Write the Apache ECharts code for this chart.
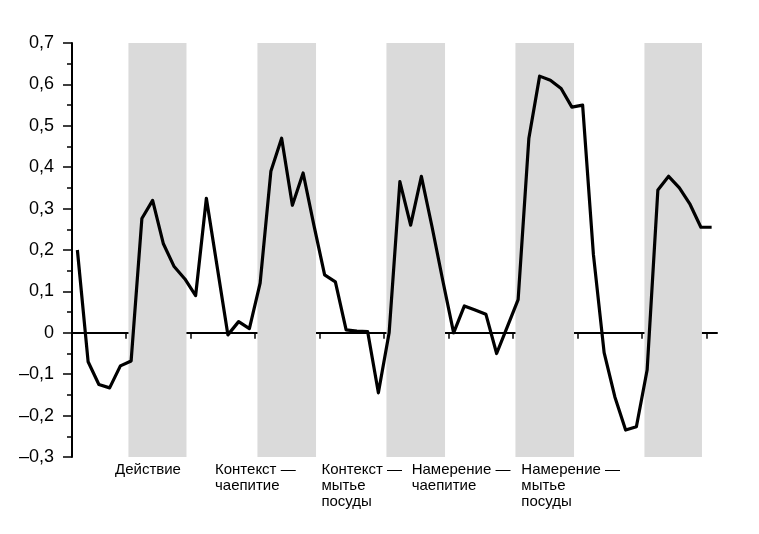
<!DOCTYPE html>
<html>
<head>
<meta charset="utf-8">
<script src="https://cdn.jsdelivr.net/npm/echarts@6/dist/echarts.min.js"></script>
<style>
html,body{margin:0;padding:0;background:#fff;}
#chart{width:759px;height:534px;}
</style>
</head>
<body>
<div id="chart"></div>
<script>
// Series values, one per time step (60 steps)
var values = [0.20, -0.07, -0.125, -0.133, -0.08, -0.068, 0.276, 0.32, 0.215, 0.16,
  0.13, 0.09, 0.325, 0.16, -0.005, 0.027, 0.01, 0.12, 0.39, 0.47,
  0.308, 0.386, 0.26, 0.14, 0.123, 0.007, 0.004, 0.003, -0.145, 0.0,
  0.365, 0.26, 0.378, 0.255, 0.125, 0.0, 0.065, 0.055, 0.045, -0.05,
  0.015, 0.08, 0.47, 0.62, 0.61, 0.59, 0.545, 0.55, 0.19, -0.048,
  -0.155, -0.235, -0.227, -0.09, 0.345, 0.378, 0.35, 0.31, 0.255, 0.255];
// x tick positions (step boundaries)
var xTicks = [5, 11, 17, 23, 29, 35, 41, 47, 53, 59];
// shaded phases [start, end] in step units
var bandStarts = [5.25, 17.25, 29.25, 41.25, 53.25];
var bandEnds = [10.65, 22.7, 34.7, 46.7, 58.6];
// category labels and their left positions (step units)
var categories = ['Действие', 'Контекст —\nчаепитие', 'Контекст —\nмытье\nпосуды', 'Намерение —\nчаепитие', 'Намерение —\nмытье\nпосуды'];
var categoryX = [4.0, 13.3, 23.2, 31.6, 41.8];
var yMin = -0.3, yMax = 0.7, yStep = 0.1;

var lineData = values.map(function (v, i) { return [i + 0.5, v]; });
var bands = bandStarts.map(function (s, i) { return [{ xAxis: s }, { xAxis: bandEnds[i] }]; });

var chart = echarts.init(document.getElementById('chart'), null, { renderer: 'canvas' });
var font = 'Liberation Sans, Arial, sans-serif';
chart.setOption({
  animation: false,
  backgroundColor: '#ffffff',
  grid: { left: 72, right: 42, top: 43, bottom: 77, containLabel: false },
  xAxis: {
    type: 'value', min: 0, max: 60,
    axisLine: { onZero: true, lineStyle: { color: '#000', width: 2 } },
    axisTick: { show: true, customValues: xTicks, length: 6, lineStyle: { color: '#000', width: 1.5 } },
    axisLabel: { show: false },
    splitLine: { show: false }
  },
  yAxis: {
    type: 'value', min: yMin, max: yMax, interval: yStep,
    axisLine: { show: true, onZero: false, lineStyle: { color: '#000', width: 2 } },
    axisTick: { show: true, inside: false, length: 9, lineStyle: { color: '#000', width: 1.5 } },
    minorTick: { show: true, splitNumber: 2, length: 5, lineStyle: { color: '#000', width: 1.5 } },
    axisLabel: {
      margin: 18, color: '#000', fontSize: 18, fontFamily: font,
      formatter: function (v) {
        var r = Math.round(v * 10) / 10;
        if (r === 0) return '0';
        return (r < 0 ? '–' : '') + Math.abs(r).toFixed(1).replace('.', ',');
      }
    },
    splitLine: { show: false }
  },
  series: [{
    type: 'line',
    data: lineData,
    symbol: 'none',
    lineStyle: { color: '#000', width: 3.2, join: 'round' },
    z: 5,
    markArea: {
      silent: true,
      itemStyle: { color: '#dadada' },
      data: bands,
      z: 1
    }
  }]
});

var yTop = chart.convertToPixel({ yAxisIndex: 0 }, yMin) + 5;
chart.setOption({
  graphic: categories.map(function (c, i) {
    return {
      type: 'text',
      left: chart.convertToPixel({ xAxisIndex: 0 }, categoryX[i]),
      top: yTop,
      style: { text: c, fontSize: 15, lineHeight: 16, fontFamily: font, fill: '#000', textAlign: 'left' }
    };
  })
});
</script>
</body>
</html>
